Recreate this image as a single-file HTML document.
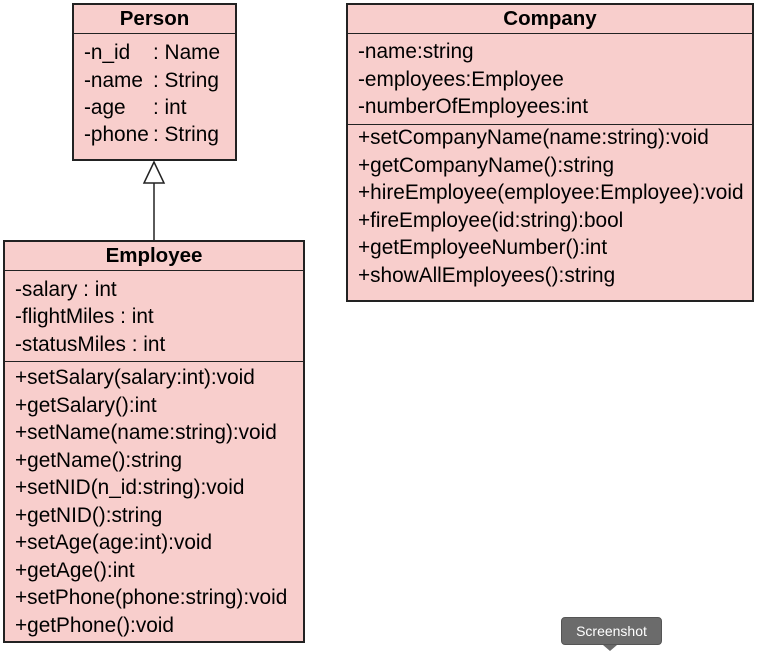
<!DOCTYPE html>
<html><head><meta charset="utf-8"><style>
body{margin:0;width:759px;height:650px;background:#fff;position:relative;overflow:hidden;font-family:"Liberation Sans",Arial,sans-serif;color:#000}
.b{position:absolute;background:#f8cecc;border:2px solid #222;box-sizing:border-box}
.l{position:absolute;height:0;border-top:1.5px solid #222}
.t{position:absolute;font-size:20.8px;line-height:22px;white-space:pre}
.h{font-weight:bold;text-align:center;font-size:20.5px}
</style></head><body>
<div class="b" style="left:72px;top:3px;width:165px;height:158px"></div>
<div class="l" style="left:72px;top:33px;width:165px"></div>
<div class="t h" style="left:72px;top:8px;width:165px">Person</div>
<div class="t" style="left:84px;top:42px">-n_id</div><div class="t" style="left:153px;top:42px">: Name</div>
<div class="t" style="left:84px;top:70px">-name</div><div class="t" style="left:153px;top:70px">: String</div>
<div class="t" style="left:84px;top:97px">-age</div><div class="t" style="left:153px;top:97px">: int</div>
<div class="t" style="left:84px;top:124px">-phone</div><div class="t" style="left:153px;top:124px">: String</div>

<svg style="position:absolute;left:0;top:0" width="759" height="650">
<line x1="154" y1="183" x2="154" y2="240" stroke="#222" stroke-width="1.5"/>
<polygon points="154,162 144,183 164,183" fill="#fff" stroke="#222" stroke-width="1.5"/>
</svg>

<div class="b" style="left:3px;top:240px;width:302px;height:403px"></div>
<div class="l" style="left:3px;top:270px;width:302px"></div>
<div class="l" style="left:3px;top:361px;width:302px"></div>
<div class="t h" style="left:3px;top:245px;width:302px">Employee</div>
<div class="t" style="left:15px;top:279px">-salary : int</div>
<div class="t" style="left:15px;top:306px">-flightMiles : int</div>
<div class="t" style="left:15px;top:334px">-statusMiles : int</div>
<div class="t" style="left:15px;top:364px;line-height:27.5px">+setSalary(salary:int):void
+getSalary():int
+setName(name:string):void
+getName():string
+setNID(n_id:string):void
+getNID():string
+setAge(age:int):void
+getAge():int
+setPhone(phone:string):void
+getPhone():void</div>

<div class="b" style="left:346px;top:3px;width:408px;height:299px"></div>
<div class="l" style="left:346px;top:33px;width:408px"></div>
<div class="l" style="left:346px;top:124px;width:408px"></div>
<div class="t h" style="left:346px;top:8px;width:408px">Company</div>
<div class="t" style="left:358px;top:38px;line-height:27.5px">-name:string
-employees:Employee
-numberOfEmployees:int</div>
<div class="t" style="left:358px;top:124px;line-height:27.5px">+setCompanyName(name:string):void
+getCompanyName():string
+hireEmployee(employee:Employee):void
+fireEmployee(id:string):bool
+getEmployeeNumber():int
+showAllEmployees():string</div>

<div style="position:absolute;left:561px;top:617px;width:101px;height:28px;background:#6b6b6b;border:1px solid #555;border-radius:4px;box-sizing:border-box;color:#fff;font-size:14px;line-height:26px;text-align:center">Screenshot</div>
<div style="position:absolute;left:603px;top:645px;width:0;height:0;border-left:7px solid transparent;border-right:7px solid transparent;border-top:6px solid #6b6b6b"></div>
</body></html>
